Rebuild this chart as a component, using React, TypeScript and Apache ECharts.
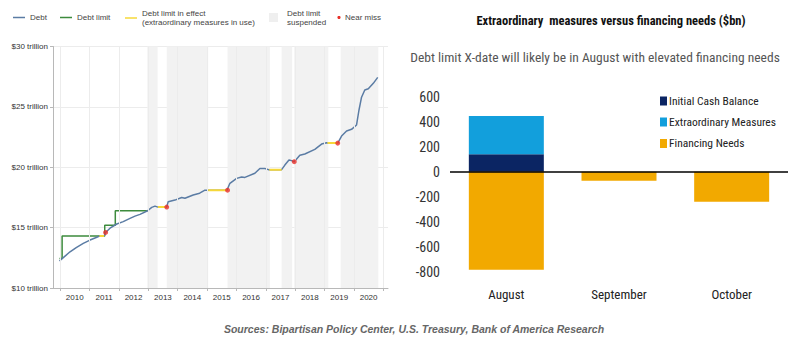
import React, { useEffect, useRef } from "react";
import * as echarts from "echarts";

// ---------- Left chart data ----------
const debtYears = [2009.98, 2010.15, 2010.34, 2010.55, 2010.79, 2011.0, 2011.25, 2011.34, 2011.5, 2011.55, 2011.7, 2011.93, 2012.15, 2012.38, 2012.55, 2012.72, 2012.98, 2013.12, 2013.23, 2013.33, 2013.6, 2013.63, 2013.68, 2013.91, 2014.14, 2014.25, 2014.53, 2014.75, 2014.93, 2015.04, 2015.68, 2015.7, 2015.78, 2016.01, 2016.18, 2016.29, 2016.63, 2016.8, 2016.97, 2017.09, 2017.54, 2017.65, 2017.79, 2017.88, 2017.97, 2018.16, 2018.33, 2018.67, 2018.9, 2019.07, 2019.1, 2019.45, 2019.58, 2019.75, 2019.92, 2020.09, 2020.17, 2020.26, 2020.37, 2020.49, 2020.66, 2020.81];
const debtValues = [12.24, 12.6, 13.0, 13.35, 13.7, 13.95, 14.2, 14.3, 14.3, 14.6, 14.95, 15.3, 15.5, 15.77, 15.95, 16.1, 16.4, 16.68, 16.78, 16.7, 16.7, 16.7, 17.15, 17.28, 17.5, 17.43, 17.7, 17.85, 18.1, 18.1, 18.1, 18.1, 18.67, 19.08, 19.2, 19.16, 19.5, 19.9, 19.9, 19.8, 19.8, 20.18, 20.6, 20.55, 20.46, 21.0, 21.1, 21.48, 21.92, 22.03, 22.0, 22.0, 22.58, 23.0, 23.14, 23.5, 24.7, 25.8, 26.4, 26.5, 26.95, 27.44];

const limitYears = [2009.98, 2010.07, 2010.07, 2011.52, 2011.52, 2011.88, 2011.88, 2012.98];
const limitValues = [12.45, 12.45, 14.3, 14.3, 15.2, 15.2, 16.4, 16.4];

const effectStart = [2011.34, 2013.33, 2015.04, 2017.12, 2019.1];
const effectEnd = [2011.5, 2013.6, 2015.68, 2017.54, 2019.45];
const effectLevel = [14.3, 16.7, 18.1, 19.8, 22.0];

const nearMissYears = [2011.55, 2013.63, 2015.7, 2017.97, 2019.45];
const nearMissValues = [14.6, 16.7, 18.1, 20.46, 22.0];

const suspendStart = [2012.97, 2013.63, 2015.7, 2017.54, 2017.97, 2019.55];
const suspendEnd = [2013.32, 2015.04, 2017.14, 2017.9, 2019.13, 2020.83];

const yearTicks = [2010, 2011, 2012, 2013, 2014, 2015, 2016, 2017, 2018, 2019, 2020, 2021];
const yearLabels = ["2010", "2011", "2012", "2013", "2014", "2015", "2016", "2017", "2018", "2019", "2020"];

// ---------- Right chart data ----------
const months = ["August", "September", "October"];
const initialCash = [140, 0, 0];
const extraordinary = [305, 0, 0];
const financingNeeds = [-785, -72, -240];

const SANS = "'Liberation Sans', Arial, sans-serif";
const NARROW = "'Liberation Sans Narrow', 'Arial Narrow', 'Roboto Condensed', 'Liberation Sans', sans-serif";

const C_DEBT = "#5b7ca4";
const C_LIMIT = "#3d8b3d";
const C_EFFECT = "#f6d83a";
const C_MISS = "#e8312a";
const C_SUSP = "#f2f2f2";
const C_NAVY = "#0b2563";
const C_LBLUE = "#129fdc";
const C_GOLD = "#f2a900";

function buildOption() {
  const debtData = debtYears.map((y, i) => [y, debtValues[i]]);
  const limitData = limitYears.map((y, i) => [y, limitValues[i]]);
  const effectData: any[] = [];
  effectStart.forEach((s, i) => {
    effectData.push([s, effectLevel[i]]);
    effectData.push([effectEnd[i], effectLevel[i]]);
    effectData.push([effectEnd[i], "-"]);
  });
  const missData = nearMissYears.map((y, i) => [y, nearMissValues[i]]);
  const suspAreas = suspendStart.map((s, i) => [{ xAxis: s }, { xAxis: suspendEnd[i] }]);

  const t = (x: number, y: number, text: string, extra: any = {}) => ({
    type: "text",
    x,
    y,
    silent: true,
    style: {
      text,
      fontSize: 8,
      fontFamily: SANS,
      fill: "#444",
      align: "left",
      verticalAlign: "middle",
      textAlign: "left",
      textVerticalAlign: "middle",
      lineHeight: 9,
      ...extra,
    },
  });

  const LY = 17.5;
  const graphic: any[] = [
    // left legend
    { type: "line", shape: { x1: 13, y1: LY, x2: 25, y2: LY }, style: { stroke: C_DEBT, lineWidth: 1.5 } },
    t(30, LY, "Debt"),
    { type: "line", shape: { x1: 60, y1: LY, x2: 72, y2: LY }, style: { stroke: C_LIMIT, lineWidth: 1.5 } },
    t(77, LY, "Debt limit"),
    { type: "line", shape: { x1: 125, y1: LY + 0.5, x2: 137, y2: LY + 0.5 }, style: { stroke: C_EFFECT, lineWidth: 1.5 } },
    t(142, LY, "Debt limit in effect\n(extraordinary measures in use)"),
    { type: "rect", shape: { x: 269, y: LY - 4.5, width: 9, height: 9 }, style: { fill: "#efefef" } },
    t(287, LY, "Debt limit\nsuspended"),
    { type: "circle", shape: { cx: 339, cy: LY, r: 1.6 }, style: { fill: C_MISS } },
    t(345, LY, "Near miss"),
    // right titles
    t(611, 20, "Extraordinary  measures versus financing needs ($bn)", {
      fontSize: 12.5,
      fontWeight: "bold",
      fontFamily: NARROW,
      fill: "#111",
      align: "center",
      textAlign: "center",
      lineHeight: 14,
    }),
    t(595, 57, "Debt limit X-date will likely be in August with elevated financing needs", {
      fontSize: 13.5,
      fontFamily: NARROW,
      fill: "#555",
      align: "center",
      textAlign: "center",
      lineHeight: 15,
    }),
    // right legend
    { type: "rect", shape: { x: 660, y: 96.5, width: 7, height: 9 }, style: { fill: C_NAVY } },
    t(669, 101, "Initial Cash Balance", { fontSize: 11.5, fontFamily: NARROW, fill: "#222", lineHeight: 13 }),
    { type: "rect", shape: { x: 660, y: 117.5, width: 7, height: 9 }, style: { fill: C_LBLUE } },
    t(669, 122, "Extraordinary Measures", { fontSize: 11.5, fontFamily: NARROW, fill: "#222", lineHeight: 13 }),
    { type: "rect", shape: { x: 660, y: 139, width: 7, height: 9 }, style: { fill: C_GOLD } },
    t(669, 143, "Financing Needs", { fontSize: 11.5, fontFamily: NARROW, fill: "#222", lineHeight: 13 }),
    // source
    t(414, 329, "Sources: Bipartisan Policy Center, U.S. Treasury, Bank of America Research", {
      fontSize: 10.5,
      fontWeight: "bold",
      fontStyle: "italic",
      fontFamily: SANS,
      fill: "#666",
      align: "center",
      textAlign: "center",
      lineHeight: 12,
    }),
  ];

  return {
    animation: false,
    backgroundColor: "#ffffff",
    graphic,
    grid: [
      { left: 53, top: 46.5, width: 335, height: 241.5 },
      { left: 450, top: 96.7, width: 338, height: 175 },
    ],
    xAxis: [
      {
        type: "value",
        gridIndex: 0,
        min: 2009.76,
        max: 2021.16,
        axisLine: { show: true, lineStyle: { color: "#b8b8b8", width: 1 } },
        axisTick: { show: true, length: 3, customValues: yearTicks, lineStyle: { color: "#b8b8b8" } },
        axisLabel: {
          show: true,
          customValues: yearLabels.map((l) => Number(l) + 0.5),
          formatter: (v: number) => yearLabels[Math.floor(v) - 2010] || "",
          fontSize: 8,
          fontFamily: SANS,
          color: "#333",
          margin: 5,
        },
        splitLine: { show: false },
      },
      {
        type: "category",
        gridIndex: 1,
        data: months,
        axisLine: { show: false },
        axisTick: { show: false },
        axisLabel: { fontSize: 13, fontFamily: NARROW, color: "#222", margin: 16 },
        splitLine: { show: false },
      },
    ],
    yAxis: [
      {
        type: "value",
        gridIndex: 0,
        min: 10,
        max: 30,
        interval: 5,
        axisLine: { show: true, lineStyle: { color: "#b8b8b8", width: 1 } },
        axisTick: { show: true, length: 3, lineStyle: { color: "#b8b8b8" } },
        axisLabel: {
          formatter: (v: number) => `$${v} trillion`,
          fontSize: 8,
          fontFamily: SANS,
          color: "#333",
          margin: 5,
        },
        splitLine: { show: true, lineStyle: { color: "#ececec", width: 1 } },
      },
      {
        type: "value",
        gridIndex: 1,
        min: -800,
        max: 600,
        interval: 200,
        axisLine: { show: false },
        axisTick: { show: false },
        axisLabel: { fontSize: 14, fontFamily: NARROW, color: "#333", margin: 10 },
        splitLine: { show: false },
      },
    ],
    series: [
      {
        name: "suspended",
        type: "line",
        xAxisIndex: 0,
        yAxisIndex: 0,
        data: [],
        silent: true,
        z: 1,
        markArea: {
          silent: true,
          itemStyle: { color: C_SUSP },
          data: suspAreas,
        },
        markLine: {
          silent: true,
          symbol: "none",
          label: { show: false },
          lineStyle: { color: "#ececec", type: "solid", width: 1 },
          data: yearTicks.map((y) => ({ xAxis: y })),
        },
      },
      {
        name: "Debt limit",
        type: "line",
        xAxisIndex: 0,
        yAxisIndex: 0,
        data: limitData,
        symbol: "none",
        lineStyle: { color: C_LIMIT, width: 1.5 },
        z: 3,
      },
      {
        name: "Debt",
        type: "line",
        xAxisIndex: 0,
        yAxisIndex: 0,
        data: debtData,
        symbol: "none",
        lineStyle: { color: C_DEBT, width: 1.5 },
        z: 4,
      },
      {
        name: "Debt limit in effect",
        type: "line",
        xAxisIndex: 0,
        yAxisIndex: 0,
        data: effectData,
        symbol: "none",
        connectNulls: false,
        lineStyle: { color: C_EFFECT, width: 2 },
        z: 5,
      },
      {
        name: "Near miss",
        type: "scatter",
        xAxisIndex: 0,
        yAxisIndex: 0,
        data: missData,
        symbolSize: 5,
        itemStyle: { color: C_MISS },
        z: 6,
      },
      {
        name: "Initial Cash Balance",
        type: "bar",
        xAxisIndex: 1,
        yAxisIndex: 1,
        stack: "total",
        data: initialCash,
        barWidth: 75,
        itemStyle: { color: C_NAVY },
      },
      {
        name: "Extraordinary Measures",
        type: "bar",
        xAxisIndex: 1,
        yAxisIndex: 1,
        stack: "total",
        data: extraordinary,
        barWidth: 75,
        itemStyle: { color: C_LBLUE },
      },
      {
        name: "Financing Needs",
        type: "bar",
        xAxisIndex: 1,
        yAxisIndex: 1,
        stack: "total",
        data: financingNeeds,
        barWidth: 75,
        itemStyle: { color: C_GOLD },
        markLine: {
          silent: true,
          symbol: "none",
          label: { show: false },
          lineStyle: { color: "#000", type: "solid", width: 1.5 },
          data: [{ yAxis: 0 }],
        },
      },
    ],
  };
}

export default function App() {
  const ref = useRef<HTMLDivElement>(null);
  useEffect(() => {
    if (!ref.current) return;
    const chart = echarts.init(ref.current, null, { renderer: "svg" });
    chart.setOption(buildOption() as any);
    return () => chart.dispose();
  }, []);
  return (
    <div
      ref={ref}
      style={{ position: "absolute", left: 0, top: 0, width: 800, height: 364, background: "#fff" }}
    />
  );
}
